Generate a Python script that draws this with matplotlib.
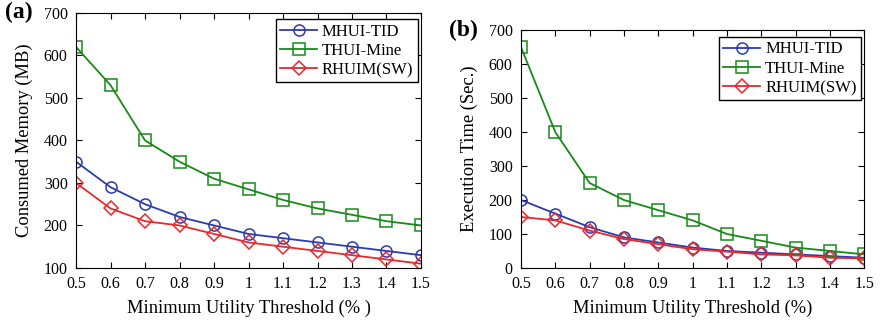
import matplotlib
matplotlib.use("Agg")
import matplotlib.pyplot as plt

thresholds = [0.5, 0.6, 0.7, 0.8, 0.9, 1.0, 1.1, 1.2, 1.3, 1.4, 1.5]
tick_labels = ["0.5", "0.6", "0.7", "0.8", "0.9", "1", "1.1", "1.2", "1.3", "1.4", "1.5"]

mem_mhui = [350, 290, 250, 220, 200, 180, 170, 160, 150, 140, 130]
mem_thui = [620, 530, 400, 350, 310, 285, 260, 240, 225, 210, 200]
mem_rhuim = [300, 240, 210, 200, 180, 160, 150, 140, 130, 120, 110]

time_mhui = [200, 160, 120, 90, 75, 60, 50, 45, 40, 35, 30]
time_thui = [650, 400, 250, 200, 170, 140, 100, 80, 60, 50, 40]
time_rhuim = [150, 140, 110, 85, 70, 55, 48, 40, 37, 30, 28]

plt.rcParams["font.family"] = ["Liberation Serif", "DejaVu Serif"]

BLUE = "#2b3bb0"
GREEN = "#178a17"
RED = "#e8282a"

fig = plt.figure(figsize=(8.8, 3.24), dpi=100)
ax_a = fig.add_axes([0.0864, 0.173, 0.392, 0.787])
ax_b = fig.add_axes([0.592, 0.173, 0.390, 0.734])


def draw(ax, mhui, thui, rhuim, ylim, ylabel, xlabel, tag, tag_xy, leg_anchor):
    ax.plot(thresholds, mhui, color=BLUE, marker="o", ms=8, mfc="none", mew=1.1, lw=1.3, label="MHUI-TID")
    ax.plot(thresholds, thui, color=GREEN, marker="s", ms=8, mfc="none", mew=1.1, lw=1.3, label="THUI-Mine")
    ax.plot(thresholds, rhuim, color=RED, marker="D", ms=7, mfc="none", mew=1.1, lw=1.3, label="RHUIM(SW)")
    ax.set_xlim(0.5, 1.5)
    ax.set_ylim(*ylim)
    ax.set_xticks(thresholds)
    ax.set_xticklabels(tick_labels)
    ax.set_yticks(range(ylim[0], ylim[1] + 1, 100))
    ax.tick_params(direction="in", top=True, right=True, labelsize=11.5, length=4, pad=6)
    for s in ax.spines.values():
        s.set_linewidth(0.8)
    ax.set_xlabel(xlabel, fontsize=13.3, labelpad=5)
    ax.set_ylabel(ylabel, fontsize=13.3, labelpad=8)
    leg = ax.legend(loc="upper right", bbox_to_anchor=leg_anchor, fontsize=12, frameon=True,
                    fancybox=False, edgecolor="black", framealpha=1, borderpad=0.25,
                    labelspacing=0.2, handlelength=2.2, handletextpad=0.3, borderaxespad=0)
    leg.get_frame().set_linewidth(1.0)
    fig.text(tag_xy[0], tag_xy[1], tag, fontsize=17, fontweight="bold", va="top", ha="left")


draw(ax_a, mem_mhui, mem_thui, mem_rhuim, (100, 700), "Consumed Memory (MB)",
     "Minimum Utility Threshold (% )", "(a)", (0.006, 0.995), (0.99, 0.975))
draw(ax_b, time_mhui, time_thui, time_rhuim, (0, 700), "Execution Time (Sec.)",
     "Minimum Utility Threshold (%)", "(b)", (0.51, 0.94), (0.99, 0.97))

fig.savefig("out.png", dpi=100)
